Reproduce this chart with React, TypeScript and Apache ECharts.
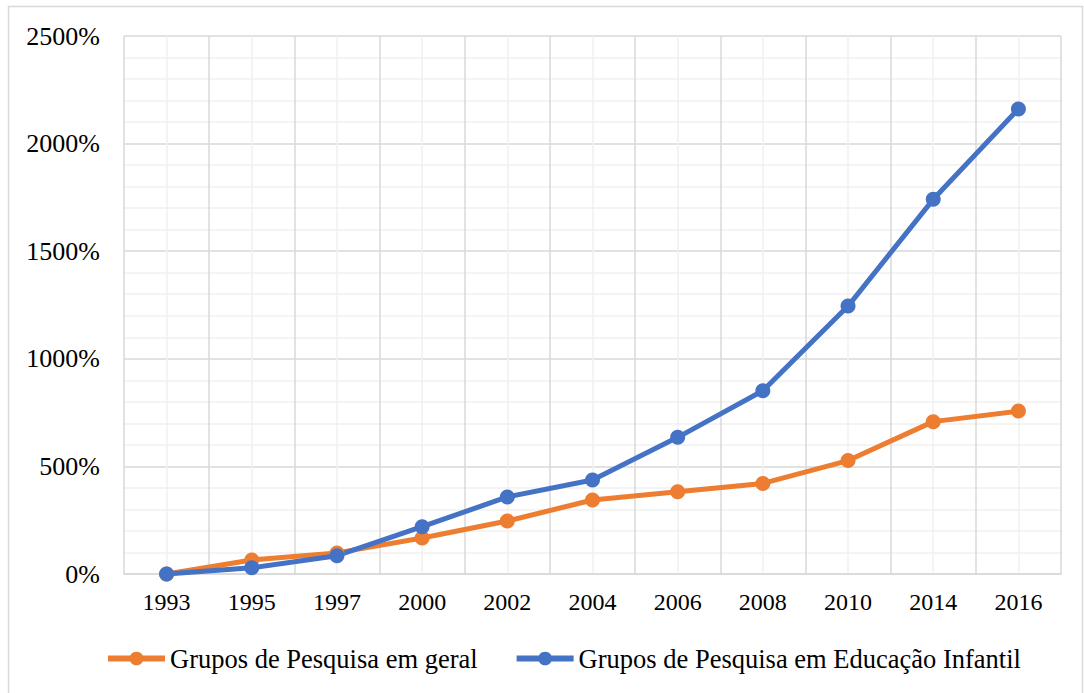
import React, { useEffect, useRef } from "react";
import * as echarts from "echarts";

const years = ["1993", "1995", "1997", "2000", "2002", "2004", "2006", "2008", "2010", "2014", "2016"];
const geral = [0, 65, 98, 167, 246, 344, 382, 421, 527, 708, 757];
const infantil = [0, 29, 85, 220, 358, 437, 635, 852, 1245, 1741, 2161];
const seriesNames = ["Grupos de Pesquisa em geral", "Grupos de Pesquisa em Educação Infantil"];

const FONT = "Liberation Serif";
const ORANGE = "#ED7D31";
const BLUE = "#4472C4";

export default function App() {
  const ref = useRef<HTMLDivElement>(null);
  useEffect(() => {
    const chart = echarts.init(ref.current!, null, { renderer: "svg" });
    chart.setOption({
      animation: false,
      backgroundColor: "#ffffff",
      graphic: [
        {
          type: "rect",
          shape: { x: 8.5, y: 6.5, width: 1074, height: 700 },
          style: { fill: "none", stroke: "#d9d9d9", lineWidth: 1.5 },
          silent: true,
        },
      ],
      grid: { left: 124, right: 23, top: 36, bottom: 119 },
      legend: {
        bottom: 16,
        left: 100,
        itemWidth: 57,
        itemHeight: 17,
        itemGap: 36,
        lineStyle: { width: 6 },
        textStyle: { fontFamily: FONT, fontSize: 26.5, color: "#000" },
        data: seriesNames,
      },
      xAxis: [
        {
          type: "category",
          data: years,
          boundaryGap: true,
          axisLine: { show: true, lineStyle: { color: "#d9d9d9", width: 1.5 } },
          axisTick: { show: false },
          splitLine: { show: false },
          axisLabel: { fontFamily: FONT, fontSize: 24, color: "#000", margin: 16 },
        },
        {
          type: "value",
          min: 0,
          max: 22,
          interval: 1,
          position: "top",
          axisLine: { show: false },
          axisTick: { show: false },
          axisLabel: { show: false },
          splitLine: { show: true, lineStyle: { color: ["#d9d9d9", "#f0f0f0"], width: 1.5 } },
        },
      ],
      yAxis: {
        type: "value",
        min: 0,
        max: 2500,
        interval: 500,
        axisLine: { show: false },
        axisTick: { show: false },
        minorTick: { show: false, splitNumber: 5 },
        minorSplitLine: { show: true, lineStyle: { color: "#f0f0f0", width: 1.5 } },
        splitLine: { show: true, lineStyle: { color: "#d9d9d9", width: 1.5 } },
        axisLabel: {
          fontFamily: FONT,
          fontSize: 26,
          color: "#000",
          margin: 24,
          formatter: (v: number) => `${v}%`,
        },
      },
      series: [
        { name: seriesNames[0], type: "line", data: geral, symbol: "circle", symbolSize: 15, color: ORANGE, lineStyle: { width: 5 } },
        { name: seriesNames[1], type: "line", data: infantil, symbol: "circle", symbolSize: 15, color: BLUE, lineStyle: { width: 5 } },
      ],
    });
    return () => chart.dispose();
  }, []);
  return (
    <div>
      <div ref={ref} style={{ position: "absolute", left: 0, top: 0, width: 1084, height: 693 }} />
    </div>
  );
}
